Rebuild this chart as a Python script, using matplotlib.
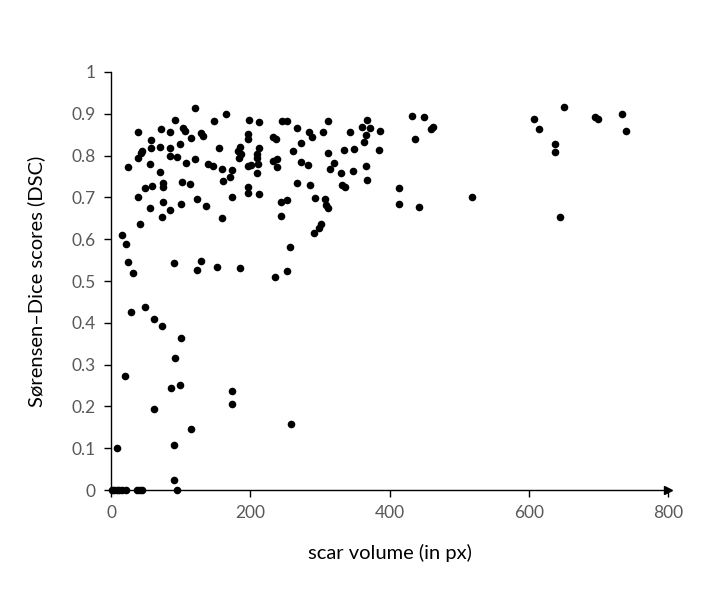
import numpy as np
import matplotlib
matplotlib.use("Agg")
from matplotlib import pyplot as plt

plt.rcParams['font.family'] = ['Lato', 'DejaVu Sans']

# scar volume (px) and Dice score
scar_volume = [
    121, 165, 92, 148, 198, 39, 72, 85, 103, 106, 129, 132, 115, 58, 197, 197,
    99, 45, 43, 39, 58, 71, 85, 155, 185, 183, 187, 184, 85, 95, 25, 56, 108,
    121, 139, 146, 71, 160, 174, 196, 171, 161, 49, 59, 75, 75, 102, 114, 197,
    197, 39, 124, 174, 75, 101, 137, 56, 85, 73, 160, 42, 16,
    213, 245, 253, 311, 367, 267, 360, 372, 386, 284, 289, 304, 343, 366, 232,
    237, 363, 273, 213, 210, 209, 261, 311, 334, 349, 385, 232, 239, 239, 273,
    283, 320, 314, 201, 211, 210, 330, 347, 366, 367, 267, 286, 332, 336, 213,
    414, 414, 293, 307, 309, 311, 253, 244, 244, 301, 298, 291,
    432, 449, 460, 462, 436, 442, 518, 607, 615, 637, 637, 650, 644, 695, 699,
    733, 739,
    22, 25, 32, 28, 49, 62, 73, 101, 92, 20, 91, 124, 129, 152, 185, 236, 253,
    257,
    86, 99, 174, 174, 62, 115, 258, 9, 91, 91, 95,
    1, 4, 8, 12, 16, 22, 38, 42, 45,
]
dice_score = [
    0.913, 0.899, 0.885, 0.882, 0.885, 0.856, 0.863, 0.856, 0.866, 0.859,
    0.853, 0.847, 0.842, 0.837, 0.851, 0.840, 0.827, 0.812, 0.806, 0.794,
    0.818, 0.820, 0.818, 0.818, 0.820, 0.811, 0.803, 0.794, 0.798, 0.796,
    0.772, 0.780, 0.783, 0.791, 0.780, 0.776, 0.761, 0.768, 0.765, 0.776,
    0.748, 0.739, 0.722, 0.727, 0.734, 0.726, 0.737, 0.731, 0.725, 0.711,
    0.701, 0.696, 0.701, 0.689, 0.684, 0.679, 0.675, 0.670, 0.653, 0.651,
    0.636, 0.609,
    0.880, 0.882, 0.882, 0.882, 0.885, 0.866, 0.868, 0.866, 0.858, 0.856,
    0.844, 0.856, 0.856, 0.849, 0.844, 0.839, 0.832, 0.829, 0.818, 0.804,
    0.794, 0.811, 0.806, 0.813, 0.816, 0.813, 0.787, 0.792, 0.773, 0.785,
    0.777, 0.782, 0.768, 0.777, 0.780, 0.758, 0.758, 0.763, 0.775, 0.741,
    0.734, 0.730, 0.730, 0.725, 0.708, 0.722, 0.684, 0.699, 0.696, 0.681,
    0.675, 0.694, 0.688, 0.656, 0.636, 0.628, 0.615,
    0.894, 0.892, 0.863, 0.868, 0.839, 0.677, 0.701, 0.887, 0.863, 0.827,
    0.808, 0.916, 0.653, 0.892, 0.887, 0.899, 0.858,
    0.589, 0.546, 0.520, 0.426, 0.438, 0.410, 0.393, 0.364, 0.317, 0.274,
    0.543, 0.527, 0.548, 0.534, 0.532, 0.510, 0.524, 0.582,
    0.245, 0.252, 0.236, 0.205, 0.193, 0.147, 0.157, 0.100, 0.107, 0.023,
    0.0,
    0.0, 0.0, 0.0, 0.0, 0.0, 0.0, 0.0, 0.0, 0.0,
]

x_ticks = [0, 200, 400, 600, 800]
y_ticks = [0, 0.1, 0.2, 0.3, 0.4, 0.5, 0.6, 0.7, 0.8, 0.9, 1]
y_tick_labels = ["0", "0.1", "0.2", "0.3", "0.4", "0.5", "0.6", "0.7", "0.8",
                 "0.9", "1"]

fig = plt.figure(figsize=(7.18, 6.05), dpi=100)
ax = fig.add_axes([0.1546, 0.19, 0.776, 0.691])

ax.scatter(scar_volume, dice_score, s=30, color="black", linewidths=0,
           clip_on=False, zorder=3)

ax.set_xlim(0, 800)
ax.set_ylim(0, 1)
ax.set_xticks(x_ticks)
ax.set_yticks(y_ticks)
ax.set_yticklabels(y_tick_labels)

for side in ["top", "right"]:
    ax.spines[side].set_visible(False)
for side in ["left", "bottom"]:
    ax.spines[side].set_linewidth(1.0)
    ax.spines[side].set_color("black")

ax.tick_params(axis="both", direction="out", length=5, width=1,
               color="black", labelcolor="#595959", labelsize=12.5, pad=6)

# arrow head at the end of the x axis
ax.plot([1.0], [0.0], marker=">", markersize=6, color="black",
        transform=ax.transAxes, clip_on=False, zorder=4)

ax.set_xlabel("scar volume (in px)", fontsize=14.5, color="black", labelpad=16)
ax.set_ylabel("Sørensen\u2013Dice scores (DSC)", fontsize=14.5, color="black",
              labelpad=19)

fig.savefig("out.png", dpi=100, facecolor="white")
